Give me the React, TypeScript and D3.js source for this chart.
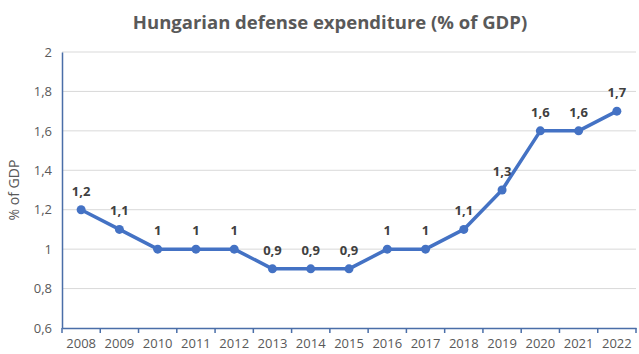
import React, { useRef, useEffect } from 'react';
import * as d3 from 'd3';

const years = ['2008', '2009', '2010', '2011', '2012', '2013', '2014', '2015', '2016', '2017', '2018', '2019', '2020', '2021', '2022'];
const spending = [1.2, 1.1, 1, 1, 1, 0.9, 0.9, 0.9, 1, 1, 1.1, 1.3, 1.6, 1.6, 1.7];
const yTicks = [0.6, 0.8, 1, 1.2, 1.4, 1.6, 1.8, 2];

const fmt = (v: number) => String(+v.toFixed(1)).replace('.', ',');

const App = () => {
  const ref = useRef<SVGSVGElement>(null);

  useEffect(() => {
    const W = 639;
    const H = 354;
    const margin = { top: 52, right: 3, bottom: 26, left: 62 };
    const font = "'Open Sans', sans-serif";

    const svg = d3.select(ref.current);
    svg.selectAll('*').remove();

    const x = d3.scaleBand().domain(years).range([margin.left, W - margin.right]);
    const y = d3.scaleLinear().domain([0.6, 2]).range([H - margin.bottom, margin.top]);

    // background
    svg.append('rect').attr('width', W).attr('height', H).attr('fill', '#ffffff');

    // title
    svg
      .append('text')
      .attr('x', 330)
      .attr('y', 29)
      .attr('text-anchor', 'middle')
      .attr('font-family', font)
      .attr('font-size', 18.5)
      .attr('font-weight', 'bold')
      .attr('fill', '#595959')
      .text('Hungarian defense expenditure (% of GDP)');

    // gridlines
    svg
      .append('g')
      .selectAll('line')
      .data(yTicks.filter((t) => t > 0.6))
      .join('line')
      .attr('x1', margin.left)
      .attr('x2', W - margin.right)
      .attr('y1', (d) => y(d))
      .attr('y2', (d) => y(d))
      .attr('stroke', '#d9d9d9')
      .attr('stroke-width', 1);

    // y axis
    const yAxis = svg
      .append('g')
      .attr('transform', `translate(${margin.left},0)`)
      .call(d3.axisLeft(y).tickValues(yTicks).tickFormat((d) => fmt(+d)).tickSize(0).tickPadding(10));
    yAxis.select('.domain').attr('stroke', '#4a6ea8').attr('stroke-width', 1.5);
    yAxis.selectAll('text').attr('font-family', font).attr('font-size', 13).attr('fill', '#595959');

    // x axis
    const xAxis = svg
      .append('g')
      .attr('transform', `translate(0,${H - margin.bottom})`)
      .call(d3.axisBottom(x).tickSize(0).tickPadding(11));
    xAxis.select('.domain').attr('stroke', '#4a6ea8').attr('stroke-width', 1.5);
    xAxis.selectAll('text').attr('font-family', font).attr('font-size', 13).attr('fill', '#595959');

    // category separator ticks
    const bounds = years.map((d) => x(d) as number).concat([W - margin.right]);
    svg
      .append('g')
      .selectAll('line')
      .data(bounds)
      .join('line')
      .attr('x1', (d) => d)
      .attr('x2', (d) => d)
      .attr('y1', H - margin.bottom)
      .attr('y2', H - margin.bottom + 5)
      .attr('stroke', '#4a6ea8')
      .attr('stroke-width', 1.5);

    // y axis title
    svg
      .append('text')
      .attr('transform', `translate(19,${(margin.top + H - margin.bottom) / 2}) rotate(-90)`)
      .attr('text-anchor', 'middle')
      .attr('font-family', font)
      .attr('font-size', 14)
      .attr('fill', '#595959')
      .text('% of GDP');

    const cx = (d: string) => (x(d) as number) + x.bandwidth() / 2;

    // line
    svg
      .append('path')
      .datum(spending)
      .attr('fill', 'none')
      .attr('stroke', '#4472c4')
      .attr('stroke-width', 3.5)
      .attr('stroke-linejoin', 'round')
      .attr(
        'd',
        d3
          .line<number>()
          .x((d, i) => cx(years[i]))
          .y((d) => y(d))
      );

    // markers
    svg
      .append('g')
      .selectAll('circle')
      .data(spending)
      .join('circle')
      .attr('cx', (d, i) => cx(years[i]))
      .attr('cy', (d) => y(d))
      .attr('r', 4.5)
      .attr('fill', '#4472c4');

    // data labels
    svg
      .append('g')
      .selectAll('text')
      .data(spending)
      .join('text')
      .attr('x', (d, i) => cx(years[i]))
      .attr('y', (d) => y(d) - 14)
      .attr('text-anchor', 'middle')
      .attr('font-family', font)
      .attr('font-size', 13)
      .attr('font-weight', 'bold')
      .attr('fill', '#404040')
      .text((d) => fmt(d));
  }, []);

  return (
    <svg
      ref={ref}
      width={639}
      height={354}
      style={{ position: 'absolute', left: 0, top: 0 }}
    />
  );
};

export default App;
